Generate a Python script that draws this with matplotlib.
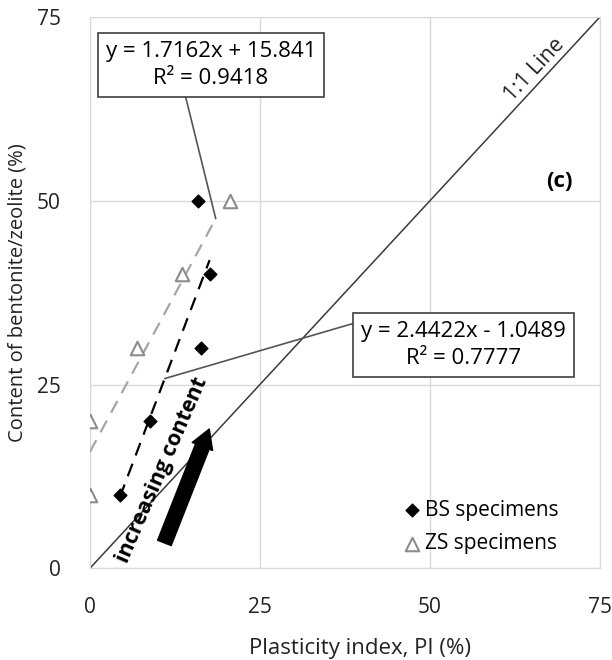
import numpy as np
import matplotlib.pyplot as plt

plt.rcParams['font.family'] = ['Open Sans', 'DejaVu Sans']

# Bentonite (BS) and zeolite (ZS) specimens: PI (%) vs additive content (%)
bs_pi = [4.4, 8.8, 16.3, 17.6, 15.9]
bs_content = [10, 20, 30, 40, 50]
zs_pi = [0, 0, 6.9, 13.5, 20.6]
zs_content = [10, 20, 30, 40, 50]

# linear trendlines (slope, intercept, R^2)
bs_fit = (2.4422, -1.0489, 0.7777)
zs_fit = (1.7162, 15.841, 0.9418)
zs_line_end = 18.6

ticks = [0, 25, 50, 75]

fig = plt.figure(figsize=(6.12, 6.6), dpi=100)
ax = fig.add_axes([0.147, 0.139, 0.833, 0.835])

ax.set_xlim(0, 75)
ax.set_ylim(0, 75)
ax.set_xticks(ticks)
ax.set_yticks(ticks)
ax.grid(True, color='#d9d9d9', lw=1)
for s in ax.spines.values():
    s.set_color('#d9d9d9')
ax.tick_params(length=0, labelsize=15, pad=21, colors='#222222')
ax.set_axisbelow(True)

# 1:1 line
ax.plot([0, 75], [0, 75], color='#3a3a3a', lw=1.1, zorder=2)
ax.text(65.4, 67.9, '1:1 Line', rotation=47, ha='center', va='center',
        fontsize=15.5, color='#222222')

# trendlines
xb = np.array([min(bs_pi), max(bs_pi)])
ax.plot(xb, bs_fit[0] * xb + bs_fit[1], color='black', ls=(0, (6, 4)), lw=1.6, zorder=3)
xz = np.array([min(zs_pi), zs_line_end])
ax.plot(xz, zs_fit[0] * xz + zs_fit[1], color='#a6a6a6', ls=(0, (6, 4)), lw=1.6, zorder=3)

# specimens
ax.scatter(bs_pi, bs_content, marker='D', s=42, color='black', zorder=4, label='BS specimens')
ax.scatter(zs_pi, zs_content, marker='^', s=95, facecolor='white', edgecolor='#8c8c8c',
           linewidth=1.5, zorder=4, label='ZS specimens')

# trendline equations with leader lines
box = dict(boxstyle='square,pad=0.36', fc='white', ec='#404040', lw=1.2)
ax.annotate('y = %.4fx + %.3f\nR² = %.4f' % zs_fit,
            xy=(18.5, zs_fit[0] * 18.5 + zs_fit[1]), xytext=(17.8, 68.5),
            ha='center', va='center', fontsize=16, linespacing=1.35, bbox=box, zorder=6,
            arrowprops=dict(arrowstyle='-', color='#555555', lw=1.2, shrinkA=0, shrinkB=0,
                            relpos=(0.37, 0.0)))
ax.annotate('y = %.4fx - %.4f\nR² = %.4f' % (bs_fit[0], -bs_fit[1], bs_fit[2]),
            xy=(11.0, bs_fit[0] * 11.0 + bs_fit[1]), xytext=(55.0, 30.4),
            ha='center', va='center', fontsize=16, linespacing=1.35, bbox=box, zorder=6,
            arrowprops=dict(arrowstyle='-', color='#555555', lw=1.2, shrinkA=0, shrinkB=0,
                            relpos=(0.0, 1.0)))

# direction of increasing content
ax.annotate('', xy=(17.7, 19.3), xytext=(10.8, 3.1),
            arrowprops=dict(arrowstyle='simple,head_width=1.05,head_length=0.9,tail_width=0.7',
                            fc='black', ec='black', mutation_scale=15), zorder=5)
ax.text(10.6, 13.3, 'increasing content', rotation=66.5, ha='center', va='center',
        fontsize=15.5, fontweight='bold', zorder=5)

ax.text(69.1, 52.6, '(c)', fontsize=16, fontweight='bold', ha='center', va='center')

ax.legend(loc='center left', bbox_to_anchor=(0.594, 0.075), frameon=False, fontsize=15,
          handletextpad=0.15, labelspacing=0.6, handlelength=1.0, borderaxespad=0)

ax.set_xlabel('Plasticity index, PI (%)', fontsize=16, color='#222222')
ax.set_ylabel('Content of bentonite/zeolite (%)', fontsize=14.5, color='#222222')
ax.xaxis.set_label_coords(0.53, -0.127)
ax.yaxis.set_label_coords(-0.122, 0.5)

fig.savefig('out.png', dpi=100)
